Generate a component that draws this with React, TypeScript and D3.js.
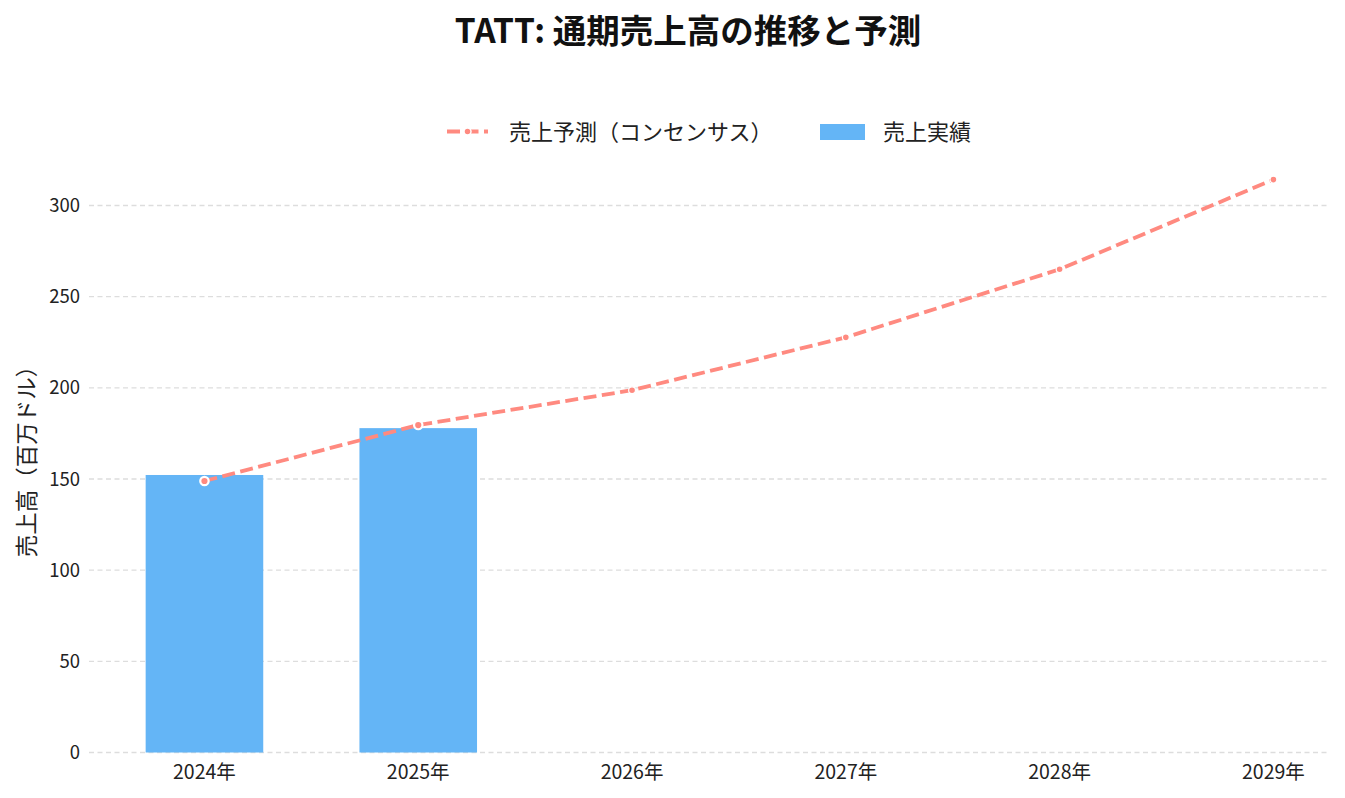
import React from "react";
import * as d3 from "d3";

const years = ["2024年", "2025年", "2026年", "2027年", "2028年", "2029年"];
const actual = [152.2, 177.9];
const forecast = [148.9, 179.6, 198.7, 227.7, 265.0, 314.2];
const yTicks = [0, 50, 100, 150, 200, 250, 300];

const W = 1345;
const H = 798;
const FONT = "'Noto Sans CJK JP', 'Noto Sans', sans-serif";
const BAR = "#64B5F6";
const LINE = "#FF8A80";

export default function App() {
  const x = d3.scaleLinear().domain([-0.54, 5.26]).range([89, 1329]);
  const y = d3.scaleLinear().domain([0, 300]).range([752.5, 205.5]);
  const step = x(1) - x(0);
  const bw = step * 0.55;
  const line = d3
    .line<number>()
    .x((_, i) => x(i))
    .y((d) => y(d));

  return (
    <svg
      width={W}
      height={H}
      style={{ position: "absolute", left: 0, top: 0, background: "#fff" }}
      fontFamily={FONT}
    >
      <text x={688} y={43} textAnchor="middle" fontSize={33.5} fontWeight="bold" fill="#111">
        TATT: 通期売上高の推移と予測
      </text>

      {/* legend */}
      <g>
        <line x1={447} x2={488} y1={131.5} y2={131.5} stroke={LINE} strokeWidth={3.8} strokeDasharray="13 5.5" />
        <circle cx={467.5} cy={131.5} r={3.5} fill={LINE} stroke="#fff" strokeWidth={1.5} />
        <text x={509} y={140} fontSize={22} fill="#222">売上予測（コンセンサス）</text>
        <rect x={820} y={124} width={45} height={16} fill={BAR} />
        <text x={883} y={140} fontSize={22} fill="#222">売上実績</text>
      </g>

      {/* grid */}
      {yTicks.map((t) => (
        <g key={t}>
          <line x1={89} x2={1329} y1={y(t)} y2={y(t)} stroke="#dddddd" strokeWidth={1.3} strokeDasharray="5 3.5" />
          <text x={80} y={y(t) + 6.5} textAnchor="end" fontSize={18.5} fill="#222">
            {t}
          </text>
        </g>
      ))}

      {/* bars */}
      {actual.map((v, i) => (
        <rect key={i} x={x(i) - bw / 2} y={y(v)} width={bw} height={y(0) - y(v)} fill={BAR} />
      ))}

      {/* forecast line */}
      <path
        d={line(forecast) || ""}
        fill="none"
        stroke={LINE}
        strokeWidth={3.8}
        strokeDasharray="13 5.5"
      />
      {forecast.map((v, i) => (
        <circle key={i} cx={x(i)} cy={y(v)} r={i < 2 ? 4.2 : 3.4} fill={LINE} stroke="#fff" strokeWidth={i < 2 ? 2.2 : 1.2} />
      ))}

      {/* x labels */}
      {years.map((yr, i) => (
        <text key={yr} x={x(i)} y={779} textAnchor="middle" fontSize={19.5} fill="#222">
          {yr}
        </text>
      ))}

      {/* y label */}
      <text
        transform={`translate(35, 456) rotate(-90)`}
        textAnchor="middle"
        fontSize={22.5}
        fill="#222"
      >
        売上高（百万ドル）
      </text>
    </svg>
  );
}
